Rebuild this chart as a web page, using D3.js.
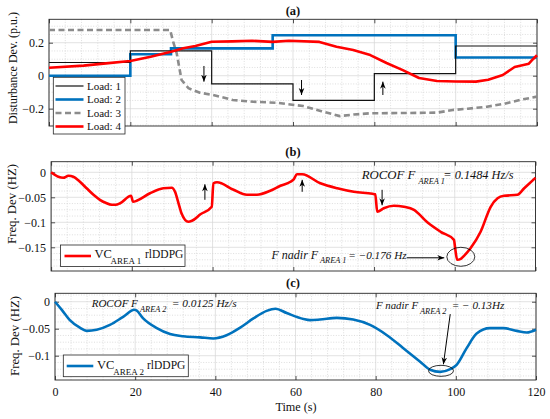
<!DOCTYPE html>
<html><head><meta charset="utf-8">
<script src="https://cdn.jsdelivr.net/npm/d3@7"></script>
<style>
body{margin:0;background:#fff}
#chart text{font-family:'Liberation Serif','Times New Roman','Nimbus Roman',Tinos,serif !important;fill:#111}
</style>
</head><body>
<svg id="chart" width="550" height="419" font-family="Liberation Serif, serif"></svg>
<script>
// ---------------- data ----------------
const timeTicks = [0, 20, 40, 60, 80, 100, 120];
const yTicksA = [-0.2, 0, 0.2];
const yTicksB = [-0.15, -0.1, -0.05, 0];
const yTicksC = [-0.1, -0.05, 0];
const legendA = ["Load: 1", "Load: 2", "Load: 3", "Load: 4"];
const panelTitles = ["(a)", "(b)", "(c)"];

// panel (a): load disturbances (p.u.)
const load1 = [[0,0.08],[20,0.15],[40,-0.05],[60,-0.15],[80,0.012],[100,0.18],[120,0.18]];
const load2 = [[0,0],[20,0.13],[30,0.166],[55,0.245],[100,0.11],[120,0.11]];
const load3 = [[0,0.277],[29.8,0.277],[30.6,0.2],[31.4,0.136],[32.6,-0.026],[34.3,-0.076],[37.1,-0.103],[40.3,-0.117],[45.2,-0.147],[50.2,-0.158],[56,-0.164],[62.5,-0.184],[67,-0.215],[71.5,-0.245],[75,-0.235],[79,-0.228],[88,-0.226],[95.4,-0.224],[99.3,-0.208],[103,-0.2],[107.7,-0.188],[112,-0.17],[115.8,-0.147],[120,-0.127]];
const load4 = [[0,0.048],[8.5,0.061],[14,0.075],[20,0.089],[25,0.115],[30,0.145],[33,0.166],[36,0.18],[40,0.206],[45,0.208],[50,0.212],[55,0.205],[59,0.212],[66.5,0.205],[70.7,0.176],[74.8,0.156],[79,0.125],[83,0.077],[87,0.034],[91,-0.014],[95.4,-0.032],[100,-0.035],[105,-0.036],[108,-0.025],[111.6,0.004],[114.5,0.053],[118,0.073],[119,0.1],[120,0.124]];

// panel (b): frequency deviation area 1 (Hz)
const freqArea1 = [[0,0],[1.8,-0.009],[3,-0.011],[4.3,-0.007],[5.5,-0.009],[7,-0.018],[8.8,-0.032],[10.5,-0.045],[12.1,-0.055],[13.5,-0.061],[15,-0.065],[16,-0.065],[17.1,-0.062],[19.8,-0.047],[20.3,-0.059],[21.2,-0.057],[24.5,-0.042],[27.8,-0.032],[29.9,-0.031],[30.7,-0.039],[31.5,-0.06],[32.3,-0.082],[34,-0.099],[34.9,-0.097],[37,-0.084],[39.8,-0.069],[40.2,-0.022],[41.1,-0.02],[45.2,-0.035],[48.5,-0.045],[51,-0.045],[54.3,-0.037],[56.8,-0.027],[59.3,-0.019],[60.1,-0.014],[60.9,-0.004],[62.2,-0.004],[66.7,-0.022],[70.9,-0.032],[75,-0.039],[79.6,-0.043],[80.3,-0.044],[80.8,-0.079],[82.4,-0.072],[84.9,-0.067],[87.4,-0.069],[89.9,-0.075],[93.2,-0.1],[96.5,-0.119],[99.8,-0.135],[100.1,-0.152],[100.6,-0.175],[101.5,-0.173],[102.3,-0.167],[103.9,-0.152],[106.4,-0.119],[108.9,-0.069],[110.6,-0.052],[112.2,-0.047],[115.5,-0.045],[117.2,-0.032],[120,-0.011]];

// panel (c): frequency deviation area 2 (Hz)
const freqArea2 = [[0,0],[1.7,-0.015],[3.7,-0.034],[6.2,-0.048],[7.9,-0.054],[10.4,-0.052],[13.7,-0.043],[17,-0.028],[19.8,-0.015],[20.3,-0.016],[22,-0.031],[25.4,-0.049],[28.7,-0.06],[32,-0.064],[36.2,-0.066],[39.5,-0.068],[42.8,-0.062],[46.2,-0.048],[49.5,-0.031],[52.8,-0.017],[55,-0.013],[57.8,-0.021],[62,-0.032],[63.6,-0.034],[66.1,-0.033],[70.3,-0.03],[74.4,-0.033],[78.6,-0.043],[82.8,-0.062],[86.9,-0.086],[91.1,-0.111],[93.6,-0.126],[96.1,-0.13],[98.6,-0.125],[100.2,-0.117],[102.7,-0.086],[105.2,-0.059],[108.5,-0.049],[111.9,-0.049],[115.2,-0.054],[117.7,-0.057],[120,-0.052]];

// annotation arrows in data coordinates [t0,v0,t1,v1]
const arrowsA = [[38.1,0.059,38.1,-0.036],[62.1,-0.026,62.1,-0.117],[82.1,-0.117,82.1,-0.036]];
const arrowsB = [[38.1,-0.055,38.1,-0.024],[62.2,-0.039,62.2,-0.015],[82,-0.035,82,-0.066],[88.1,-0.171,97.4,-0.171]];
const arrowsC = [[98.6,-0.023,96.9,-0.116]];
const nadirB = [101.5, -0.169];
const nadirC = [96.3, -0.128];

// ---------------- layout ----------------
const FONT = "Liberation Serif, Times New Roman, serif";
const svg = d3.select("#chart");
const defs = svg.append("defs");
defs.append("marker").attr("id","ah").attr("viewBox","0 0 10 10")
  .attr("refX",10).attr("refY",5).attr("markerWidth",7).attr("markerHeight",7)
  .attr("markerUnits","userSpaceOnUse").attr("orient","auto")
  .append("path").attr("d","M0,1 L10,5 L0,9 L3,5 Z").attr("fill","#000");

const geo = {
  a:{l:49,r:537,t:19.3,b:126,dom:[-0.305,0.342],yt:yTicksA,minY:0.05},
  b:{l:51.1,r:535.5,t:161.7,b:271,dom:[-0.1974,0.0212],yt:yTicksB,minY:0.0125},
  c:{l:55,r:536,t:293.3,b:380,dom:[-0.145,0.0156],yt:yTicksC,minY:0.0125}
};
const fmt = v => v === 0 ? "0" : (v < 0 ? "\u2212" : "") + String(Math.abs(v));

function panel(g, showX) {
  const x = d3.scaleLinear().domain([0,120]).range([g.l,g.r]);
  const y = d3.scaleLinear().domain(g.dom).range([g.b,g.t]);
  const root = svg.append("g");
  const mg = root.append("g").attr("stroke","#c8c8c8").attr("stroke-width",0.6).attr("stroke-dasharray","1,1.6");
  d3.range(0,120.001,4).forEach(t => { if (t%20) mg.append("line").attr("x1",x(t)).attr("x2",x(t)).attr("y1",g.t).attr("y2",g.b); });
  const y0 = Math.ceil(g.dom[0]/g.minY)*g.minY;
  d3.range(y0, g.dom[1], g.minY).forEach(v => {
    const isMajor = g.yt.some(k => Math.abs(k-v) < 1e-6);
    if (!isMajor) mg.append("line").attr("x1",g.l).attr("x2",g.r).attr("y1",y(v)).attr("y2",y(v));
  });
  const jg = root.append("g").attr("stroke","#d6d6d6").attr("stroke-width",0.7);
  timeTicks.forEach(t => jg.append("line").attr("x1",x(t)).attr("x2",x(t)).attr("y1",g.t).attr("y2",g.b));
  g.yt.forEach(v => jg.append("line").attr("x1",g.l).attr("x2",g.r).attr("y1",y(v)).attr("y2",y(v)));
  const styleAx = sel => { sel.attr("font-family",FONT); sel.select(".domain").remove();
    sel.selectAll(".tick line").attr("stroke","#262626").attr("stroke-width",0.8);
    sel.selectAll("text").attr("font-size","12px").attr("fill","#1a1a1a"); };
  root.append("g").attr("transform",`translate(0,${g.b})`)
    .call(d3.axisBottom(x).tickValues(timeTicks).tickSizeInner(-4).tickSizeOuter(0).tickPadding(7.5)
      .tickFormat(showX ? d3.format("d") : () => "")).call(styleAx);
  root.append("g").attr("transform",`translate(0,${g.t})`)
    .call(d3.axisTop(x).tickValues(timeTicks).tickSizeInner(-4).tickSizeOuter(0).tickFormat(() => "")).call(styleAx);
  root.append("g").attr("transform",`translate(${g.l},0)`)
    .call(d3.axisLeft(y).tickValues(g.yt).tickSizeInner(-4).tickSizeOuter(0).tickPadding(5).tickFormat(fmt)).call(styleAx);
  root.append("g").attr("transform",`translate(${g.r},0)`)
    .call(d3.axisRight(y).tickValues(g.yt).tickSizeInner(-4).tickSizeOuter(0).tickFormat(() => "")).call(styleAx);
  root.append("rect").attr("x",g.l).attr("y",g.t).attr("width",g.r-g.l).attr("height",g.b-g.t)
    .attr("fill","none").attr("stroke","#262626").attr("stroke-width",0.9);
  const plot = svg.append("g");
  return {x, y, plot};
}

function arrows(p, list) {
  list.forEach(a => p.plot.append("line").attr("x1",p.x(a[0])).attr("y1",p.y(a[1]))
    .attr("x2",p.x(a[2])).attr("y2",p.y(a[3])).attr("stroke","#000").attr("stroke-width",1)
    .attr("marker-end","url(#ah)"));
}

// ---------------- panel (a) ----------------
const pa = panel(geo.a, false);
const lineA = d3.line().x(d => pa.x(d[0])).y(d => pa.y(d[1]));
const stepA = d3.line().x(d => pa.x(d[0])).y(d => pa.y(d[1])).curve(d3.curveStepAfter);
pa.plot.append("path").attr("d", lineA(load3)).attr("fill","none").attr("stroke","#8c8c8c").attr("stroke-width",2.6).attr("stroke-dasharray","6,3.5");
pa.plot.append("path").attr("d", stepA(load2)).attr("fill","none").attr("stroke","#0072BD").attr("stroke-width",2.6);
pa.plot.append("path").attr("d", stepA(load1)).attr("fill","none").attr("stroke","#111").attr("stroke-width",1.2);
pa.plot.append("path").attr("d", lineA(load4)).attr("fill","none").attr("stroke","#ff0000").attr("stroke-width",2.6).attr("stroke-linejoin","round");
arrows(pa, arrowsA);

// legend (a)
const lgA = svg.append("g").attr("font-family",FONT);
lgA.append("rect").attr("x",53.3).attr("y",77.3).attr("width",71.7).attr("height",56.7).attr("fill","#fff").attr("stroke","#262626").attr("stroke-width",0.8);
const legStyles = [
  {c:"#111",w:1.2,d:null},{c:"#0072BD",w:2.6,d:null},{c:"#8c8c8c",w:2.6,d:"6,3.5"},{c:"#ff0000",w:2.6,d:null}];
legendA.forEach((name,i) => {
  const yy = 86 + i*13.5;
  lgA.append("line").attr("x1",55.5).attr("x2",83.5).attr("y1",yy).attr("y2",yy)
    .attr("stroke",legStyles[i].c).attr("stroke-width",legStyles[i].w).attr("stroke-dasharray",legStyles[i].d);
  lgA.append("text").attr("x",87).attr("y",yy+3.8).attr("font-size","11px").text(name);
});

// ---------------- panel (b) ----------------
const pb = panel(geo.b, false);
const lineB = d3.line().x(d => pb.x(d[0])).y(d => pb.y(d[1])).curve(d3.curveMonotoneX);
pb.plot.append("path").attr("d", lineB(freqArea1)).attr("fill","none").attr("stroke","#ff0000").attr("stroke-width",2.6).attr("stroke-linejoin","round");
arrows(pb, arrowsB);
pb.plot.append("ellipse").attr("cx",pb.x(nadirB[0])).attr("cy",pb.y(nadirB[1])).attr("rx",14).attr("ry",9.5)
  .attr("fill","none").attr("stroke","#000").attr("stroke-width",0.8);

function annot(x0, yb, main, sub, rest, fs, xs, xr, fsRest) {
  const t = svg.append("text").attr("font-family",FONT).attr("font-style","italic").attr("font-size",fs+"px");
  t.append("tspan").attr("x",x0).attr("y",yb).text(main);
  t.append("tspan").attr("x",xs).attr("y",yb+4.2).attr("font-size","8.3px").text(sub);
  t.append("tspan").attr("x",xr).attr("y",yb).attr("font-size",(fsRest||fs)+"px").text(rest);
}
annot(361.7, 179.3, "ROCOF F", "AREA 1", "= 0.1484 Hz/s", 12.8, 418.5, 443.3, 12.3);
annot(271.5, 258.6, "F nadir F", "AREA 1", "= \u22120.176 Hz", 12, 320, 348.3, 11.2);

const lgB = svg.append("g").attr("font-family",FONT);
lgB.append("rect").attr("x",60.5).attr("y",245).attr("width",124.5).attr("height",21.5).attr("fill","#fff").attr("stroke","#262626").attr("stroke-width",0.8);
lgB.append("line").attr("x1",64.5).attr("x2",91).attr("y1",256).attr("y2",256).attr("stroke","#ff0000").attr("stroke-width",2.6);
const tb = lgB.append("text").attr("font-size","12.5px");
tb.append("tspan").attr("x",94.5).attr("y",258).text("VC");
tb.append("tspan").attr("x",110.5).attr("y",263.5).attr("font-size","9px").text("AREA 1");
tb.append("tspan").attr("x",145).attr("y",258).attr("font-size","11.5px").text("rlDDPG");

// ---------------- panel (c) ----------------
const pc = panel(geo.c, true);
const lineC = d3.line().x(d => pc.x(d[0])).y(d => pc.y(d[1])).curve(d3.curveMonotoneX);
pc.plot.append("path").attr("d", lineC(freqArea2)).attr("fill","none").attr("stroke","#0072BD").attr("stroke-width",2.6).attr("stroke-linejoin","round");
pc.plot.append("ellipse").attr("cx",pc.x(nadirC[0])).attr("cy",pc.y(nadirC[1])).attr("rx",12.5).attr("ry",5.5)
  .attr("fill","none").attr("stroke","#000").attr("stroke-width",0.8);
arrows(pc, arrowsC);
annot(91.7, 307.3, "ROCOF F", "AREA 2", "= 0.0125 Hz/s", 11, 140, 171.7, 11.4);
annot(376, 309.3, "F nadir F", "AREA 2", "= \u2212 0.13Hz", 10.8, 420, 451.7, 11.2);

const lgC = svg.append("g").attr("font-family",FONT);
lgC.append("rect").attr("x",63.3).attr("y",355).attr("width",125).attr("height",21.7).attr("fill","#fff").attr("stroke","#262626").attr("stroke-width",0.8);
lgC.append("line").attr("x1",66.7).attr("x2",93.3).attr("y1",366).attr("y2",366).attr("stroke","#0072BD").attr("stroke-width",2.6);
const tc = lgC.append("text").attr("font-size","12.5px");
tc.append("tspan").attr("x",97).attr("y",369).text("VC");
tc.append("tspan").attr("x",113.3).attr("y",374.5).attr("font-size","9px").text("AREA 2");
tc.append("tspan").attr("x",147).attr("y",369).attr("font-size","11.5px").text("rlDDPG");

// ---------------- titles & axis labels ----------------
const lab = svg.append("g").attr("font-family",FONT);
const titleY = [14.5, 156, 287];
panelTitles.forEach((s,i) => lab.append("text").attr("x",293).attr("y",titleY[i]).attr("text-anchor","middle")
  .attr("font-weight","bold").attr("font-size","12.5px").text(s));
lab.append("text").attr("transform","translate(16.5,68) rotate(-90)").attr("text-anchor","middle").attr("font-size","12px").text("Disturbance Dev. (p.u.)");
lab.append("text").attr("transform","translate(15.5,204) rotate(-90)").attr("text-anchor","middle").attr("font-size","12.8px").text("Freq. Dev (HZ)");
lab.append("text").attr("transform","translate(19,336) rotate(-90)").attr("text-anchor","middle").attr("font-size","12.8px").text("Freq. Dev (HZ)");
lab.append("text").attr("x",296).attr("y",411).attr("text-anchor","middle").attr("font-size","12.2px").text("Time (s)");
</script>
</body></html>
